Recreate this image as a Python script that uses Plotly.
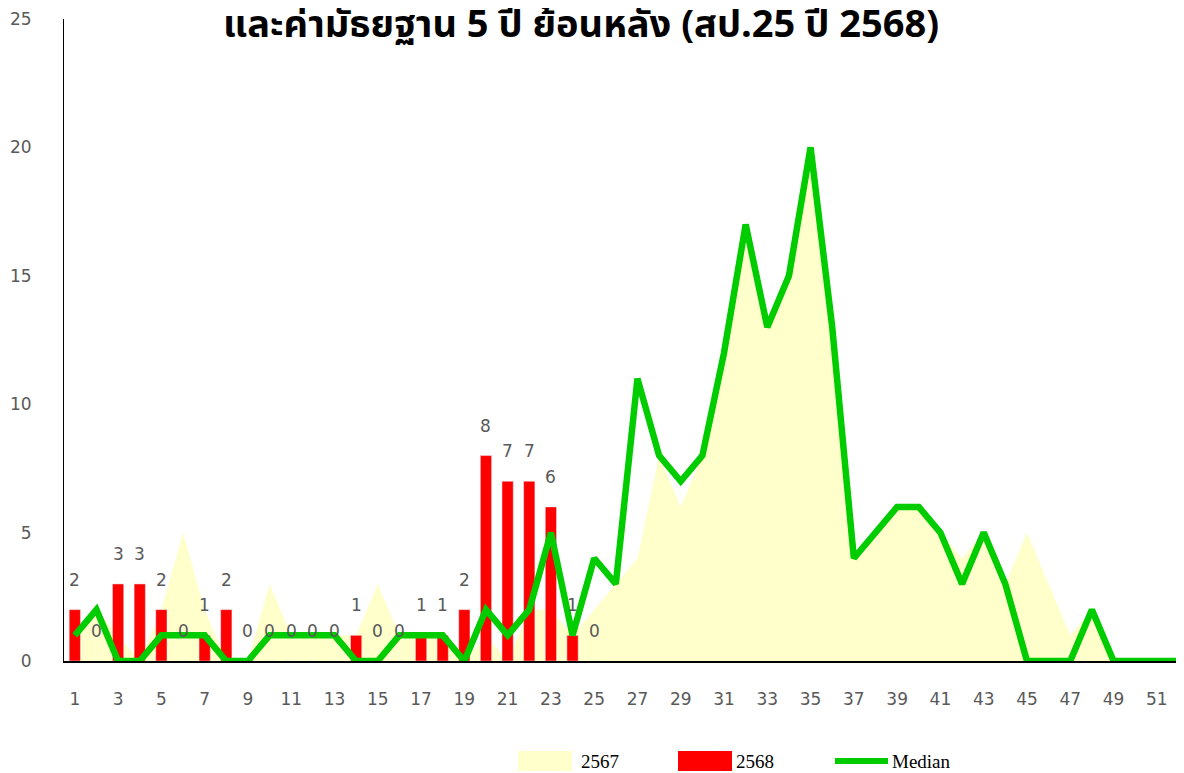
import plotly.graph_objects as go

weeks = list(range(1, 53))
cases_2567 = [1, 2, 1, 0, 2, 5, 2, 0, 0, 3,
              1, 1, 1, 1, 3, 1, 1, 1, 0, 1,
              0, 2, 2, 1, 2, 3, 4, 8, 6, 8,
              12, 17, 13, 15, 20, 13, 4, 5, 6, 6,
              5, 4, 5, 3, 5, 3, 1, 2, 0, 0,
              0, 0]
weeks_2568 = list(range(1, 26))
cases_2568 = [2, 0, 3, 3, 2, 0, 1, 2, 0, 0,
              0, 0, 0, 1, 0, 0, 1, 1, 2, 8,
              7, 7, 6, 1, 0]
median_5y = [1, 2, 0, 0, 1, 1, 1, 0, 0, 1,
             1, 1, 1, 0, 0, 1, 1, 1, 0, 2,
             1, 2, 5, 1, 4, 3, 11, 8, 7, 8,
             12, 17, 13, 15, 20, 13, 4, 5, 6, 6,
             5, 3, 5, 3, 0, 0, 0, 2, 0, 0,
             0, 0]
x_ticks = list(range(1, 52, 2))
y_ticks = [0, 5, 10, 15, 20, 25]
title_text = "และค่ามัธยฐาน 5 ปี ย้อนหลัง (สป.25 ปี 2568)"
legend_names = ["2567", "2568", "Median"]

C_AREA = "#FFFFCC"
C_BAR = "#FF0000"
C_LINE = "#00CC00"
TICK_FONT = dict(family="DejaVu Sans", size=17, color="#595959")

# page body has an 8px margin: figure origin sits at (8, 8) in the window
OFF = 8
PLOT_L, PLOT_R, PLOT_T, PLOT_B = 64, 1184, 19, 661  # window pixels

fig = go.Figure()
fig.add_trace(go.Scatter(x=weeks, y=cases_2567, mode="lines", fill="tozeroy",
                         fillcolor=C_AREA, line=dict(width=0, color=C_AREA),
                         name=legend_names[0], xaxis="x", yaxis="y"))
fig.add_trace(go.Bar(x=weeks_2568, y=cases_2568, marker_color=C_BAR, width=0.52,
                     name=legend_names[1], xaxis="x2", yaxis="y2"))
fig.add_trace(go.Scatter(x=weeks, y=median_5y, mode="lines",
                         line=dict(color=C_LINE, width=6.5),
                         name=legend_names[2], xaxis="x2", yaxis="y2"))

annotations = []
for w, v in zip(weeks_2568, cases_2568):
    annotations.append(dict(x=w, y=v, xref="x2", yref="y2", text=str(v),
                            showarrow=False, yanchor="middle", yshift=30,
                            font=dict(family="DejaVu Sans", size=17, color="#595959")))


def px_x(p):
    return (p - PLOT_L) / float(PLOT_R - PLOT_L)


def px_y(p):
    return (PLOT_B - p) / float(PLOT_B - PLOT_T)


annotations.append(dict(x=px_x(581), y=px_y(26), xref="paper", yref="paper",
                        text=f"<b>{title_text}</b>", showarrow=False,
                        xanchor="center", yanchor="middle",
                        font=dict(family="Tahoma, Noto Sans Thai, sans-serif", size=38, color="black")))

shapes = [
    dict(type="rect", xref="paper", yref="paper", x0=px_x(518), x1=px_x(572),
         y0=px_y(771), y1=px_y(751), fillcolor=C_AREA, line=dict(width=0)),
    dict(type="rect", xref="paper", yref="paper", x0=px_x(678), x1=px_x(732),
         y0=px_y(771), y1=px_y(751), fillcolor=C_BAR, line=dict(width=0)),
    dict(type="line", xref="paper", yref="paper", x0=px_x(835), x1=px_x(888),
         y0=px_y(761), y1=px_y(761), line=dict(color=C_LINE, width=6)),
]
for name, xpix in zip(legend_names, [579, 734, 890]):
    annotations.append(dict(x=px_x(xpix), y=px_y(761), xref="paper", yref="paper",
                            text=name, showarrow=False, xanchor="left", yanchor="middle",
                            font=dict(family="Liberation Serif", size=19, color="black")))

xrange = [0.5, 0.5 + (PLOT_R - PLOT_L) / 21.64]
W, H = 1184 - OFF, 773 - OFF
fig.update_layout(
    width=W, height=H,
    margin=dict(l=PLOT_L - OFF, r=W - (PLOT_R - OFF), t=PLOT_T - OFF, b=H - (PLOT_B - OFF)),
    paper_bgcolor="white", plot_bgcolor="rgba(0,0,0,0)",
    showlegend=False,
    xaxis=dict(range=xrange, tickmode="array", tickvals=x_ticks,
               ticktext=[str(t) for t in x_ticks], showgrid=False, zeroline=False,
               showline=True, linecolor="black", linewidth=1.5, ticks="",
               tickfont=TICK_FONT, ticklabelstandoff=22),
    yaxis=dict(range=[0, 25], tickmode="array", tickvals=y_ticks,
               showgrid=False, zeroline=False, showline=True, linecolor="black",
               linewidth=1, ticks="", tickfont=TICK_FONT, ticklabelstandoff=28),
    xaxis2=dict(range=xrange, overlaying="x", visible=False),
    yaxis2=dict(range=[0, 25], overlaying="y", visible=False),
    annotations=annotations,
    shapes=shapes,
)

fig.write_html("out.html")
